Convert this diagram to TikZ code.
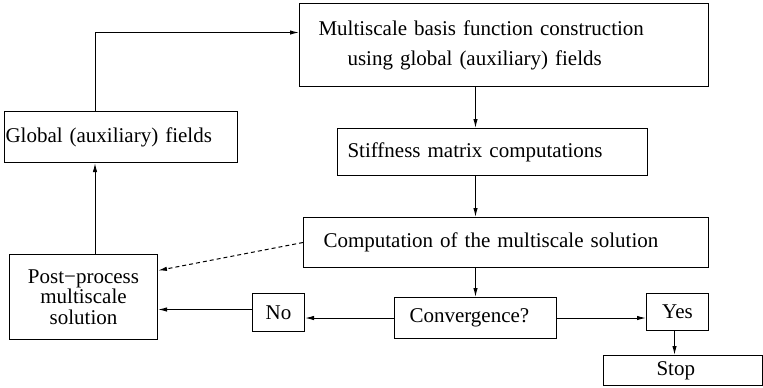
\documentclass[tikz,border=0pt]{standalone}
\usepackage{fontspec}
\setmainfont{Liberation Serif}
\usetikzlibrary{arrows.meta}

\begin{document}
\begin{tikzpicture}[
  x=0.5pt, y=-0.5pt,
  box/.style={rectangle, draw=black, line width=0.5pt, anchor=north west,
              inner ysep=0pt, align=left, font=\fontsize{10.5}{15}\selectfont},
  arr/.style={-{Latex[length=4.5pt, width=2.2pt]}, line width=0.5pt},
  darr/.style={arr, dash pattern=on 2pt off 1.5pt}
]
\useasboundingbox (0,0) rectangle (763,387);

\node[box, text width=185.5pt, inner xsep=9.5pt, minimum height=41.5pt] (mbf) at (299,3)
  {Multiscale basis function construction\\\hspace*{14.5pt}using global (auxiliary) fields};
\node[box, text width=145pt, inner xsep=5pt, minimum height=23.5pt] (stiff) at (337,128)
  {Stiffness matrix computations};
\node[box, text width=182.5pt, inner xsep=10pt, minimum height=25pt] (comp) at (303,217)
  {Computation of the multiscale solution};
\node[box, text width=66pt, inner xsep=7.5pt, minimum height=20.5pt] (conv) at (394,297)
  {Convergence?};
\node[box, text width=26pt, inner xsep=0pt, align=center, minimum height=19pt] (no) at (252,293) {No};
\node[box, text width=31pt, inner xsep=0pt, align=center, minimum height=18.5pt] (yes) at (646,293) {Yes};
\node[box, text width=26.5pt, inner xsep=26.5pt, minimum height=15pt] (stop) at (603,355) {Stop};
\node[box, text width=115.5pt, inner xsep=0.5pt, minimum height=25.5pt] (glob) at (4,111)
  {Global (auxiliary) fields};
\node[box, text width=74pt, inner xsep=0pt, align=center, minimum height=42.5pt,
      font=\fontsize{10.5}{10.25}\selectfont] (post) at (9,254)
  {Post−process\hspace*{4pt}\\multiscale\hspace*{4pt}\\solution\hspace*{4pt}};

% feedback spine on the left
\coordinate (spine) at (95,0);

\draw[arr] (glob.north -| spine) |- ([yshift=6.25pt]mbf.west);
\draw[arr] (mbf.south -| conv.north) -- (stiff.north -| conv.north);
\draw[arr] (stiff.south -| conv.north) -- (comp.north -| conv.north);
\draw[arr] (comp.south -| conv.north) -- (conv.north);
\draw[arr] (conv.west) -- (conv.west -| no.east);
\draw[arr] ([yshift=1.5pt]no.west) -- ([yshift=-6.25pt]post.east);
\draw[darr] (comp.west) -- ([yshift=13.25pt]post.east);
\draw[arr] (post.north -| spine) -- (glob.south -| spine);
\draw[arr] (conv.east) -- (conv.east -| yes.west);
\draw[arr] ([xshift=-1.5pt]yes.south) -- ([xshift=-1.5pt]yes.south |- stop.north);

\end{tikzpicture}
\end{document}
